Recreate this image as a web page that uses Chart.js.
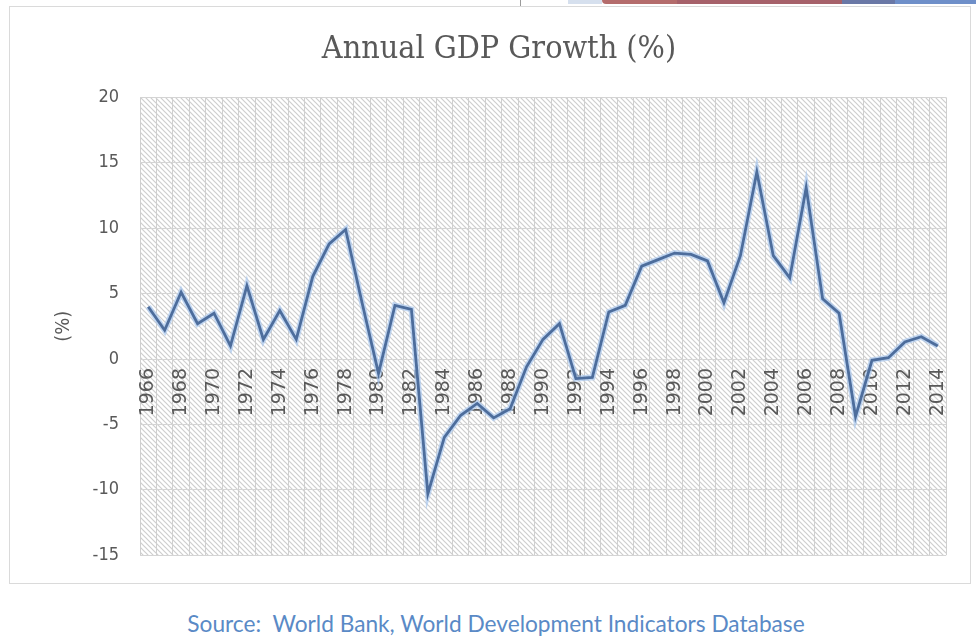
<!DOCTYPE html>
<html>
<head>
<meta charset="utf-8">
<title>Annual GDP Growth</title>
<script src="https://cdn.jsdelivr.net/npm/chart.js@4.4.1/dist/chart.umd.min.js"></script>
<style>
    html, body {
        margin: 0;
        padding: 0;
        background: #ffffff;
    }

    body {
        width: 976px;
        height: 640px;
        position: relative;
        overflow: hidden;
    }

    /* strip of the page header cut off above the chart */
    .franja {
        position: absolute;
        top: 0;
        height: 4px;
    }

    .separador {
        position: absolute;
        left: 520px;
        top: 0;
        width: 1px;
        height: 11px;
        background: #9a9a9a;
    }

    .marco {
        position: absolute;
        left: 9px;
        top: 6px;
        width: 962px;
        height: 578px;
        border: 1px solid #dadada;
        box-sizing: border-box;
        background: #ffffff;
    }

    #pibChart {
        position: absolute;
        left: 0;
        top: 0;
    }

    .fuente {
        position: absolute;
        left: 8px;
        width: 976px;
        top: 610px;
        text-align: center;
        font-family: Lato, "Open Sans", sans-serif;
        font-size: 22.7px;
        color: #5a8ac6;
    }
</style>
</head>
<body>

<div class="separador"></div>
<div class="franja" style="left:568px;width:34px;background:#d6e0ee;"></div>
<div class="franja" style="left:602px;width:75px;background:#b46c6c;border-bottom-left-radius:6px;"></div>
<div class="franja" style="left:677px;width:165px;background:#a6616a;"></div>
<div class="franja" style="left:842px;width:53px;background:#6a78a6;"></div>
<div class="franja" style="left:895px;width:81px;background:#6f8fc9;"></div>

<div class="marco">
    <canvas id="pibChart" width="960" height="580"></canvas>
</div>

<div class="fuente">Source:&nbsp; World Bank, World Development Indicators Database</div>

<script>

// ==========================
// DATOS
// ==========================

const anios = [
    '1966', '1967', '1968', '1969', '1970', '1971', '1972', '1973', '1974', '1975',
    '1976', '1977', '1978', '1979', '1980', '1981', '1982', '1983', '1984', '1985',
    '1986', '1987', '1988', '1989', '1990', '1991', '1992', '1993', '1994', '1995',
    '1996', '1997', '1998', '1999', '2000', '2001', '2002', '2003', '2004', '2005',
    '2006', '2007', '2008', '2009', '2010', '2011', '2012', '2013', '2014'
];

const crecimiento = [
    4.0, 2.2, 5.1, 2.7, 3.5, 1.0, 5.6, 1.5, 3.7, 1.5,
    6.3, 8.8, 9.9, 4.3, -1.1, 4.1, 3.8, -10.3, -6.0, -4.3,
    -3.4, -4.5, -3.8, -0.6, 1.5, 2.7, -1.5, -1.4, 3.6, 4.1,
    7.1, 7.6, 8.1, 8.0, 7.5, 4.3, 7.9, 14.3, 7.9, 6.2,
    13.1, 4.6, 3.5, -4.4, -0.1, 0.1, 1.3, 1.7, 1.0
];

const ticksY = [-15, -10, -5, 0, 5, 10, 15, 20];

// ==========================
// FONDO RAYADO DEL AREA
// ==========================

function crearRayado() {
    const c = document.createElement('canvas');
    c.width = 5;
    c.height = 5;
    const g = c.getContext('2d');
    g.fillStyle = '#ffffff';
    g.fillRect(0, 0, 5, 5);
    g.strokeStyle = '#cecece';
    g.lineWidth = 1.2;
    g.beginPath();
    g.moveTo(-1, -1);
    g.lineTo(6, 6);
    g.moveTo(-1, 4);
    g.lineTo(1, 6);
    g.moveTo(4, -1);
    g.lineTo(6, 1);
    g.stroke();
    return c;
}

const fondoRayado = {
    id: 'fondoRayado',
    beforeDraw(chart) {
        const {ctx, chartArea} = chart;
        ctx.save();
        ctx.fillStyle = ctx.createPattern(crearRayado(), 'repeat');
        ctx.fillRect(chartArea.left, chartArea.top,
            chartArea.right - chartArea.left, chartArea.bottom - chartArea.top);
        ctx.restore();
    }
};

// ==========================
// GRAFICO DE LINEA
// ==========================

const pibCtx = document.getElementById('pibChart');

new Chart(pibCtx, {

    type: 'line',

    data: {

        labels: anios,

        datasets: [

            {
                label: 'Annual GDP Growth (%)',
                data: crecimiento,
                borderColor: '#4d6d9c',
                borderWidth: 2.8,
                pointRadius: 0,
                tension: 0,
                order: 1
            },

            // halo claro debajo de la linea
            {
                label: 'brillo',
                data: crecimiento,
                borderColor: 'rgba(170, 200, 238, 0.7)',
                borderWidth: 6,
                pointRadius: 0,
                tension: 0,
                order: 2
            }

        ]

    },

    options: {

        responsive: false,

        animation: false,

        layout: {
            padding: {left: 42, right: 24, top: 0, bottom: 20}
        },

        plugins: {

            legend: {
                display: false
            },

            tooltip: {
                enabled: false
            },

            title: {
                display: true,
                text: 'Annual GDP Growth (%)',
                color: '#595959',
                font: {family: '"DejaVu Serif Condensed", "DejaVu Serif", serif', size: 32, weight: 'normal'},
                padding: {top: 23, bottom: 29}
            }

        },

        scales: {

            x: {
                type: 'category',
                offset: true,
                position: {y: 0},
                border: {display: false},
                grid: {
                    offset: true,
                    color: '#cfcfcf',
                    drawTicks: false
                },
                ticks: {
                    autoSkip: false,
                    maxRotation: 90,
                    minRotation: 90,
                    padding: 9,
                    color: '#595959',
                    font: {family: '"DejaVu Sans", sans-serif', size: 19},
                    callback: (valor, i) => (i % 2 === 0 ? anios[i] : '')
                }
            },

            y: {
                min: ticksY[0],
                max: ticksY[ticksY.length - 1],
                border: {display: false},
                afterBuildTicks: (escala) => {
                    escala.ticks = ticksY.map(v => ({value: v}));
                },
                afterFit: (escala) => {
                    escala.width = 88;
                },
                grid: {
                    color: '#d4d4d4',
                    drawTicks: false
                },
                ticks: {
                    padding: 21,
                    color: '#595959',
                    font: {family: '"DejaVu Sans Condensed", "DejaVu Sans", sans-serif', size: 18}
                },
                title: {
                    display: true,
                    text: '(%)',
                    color: '#595959',
                    font: {family: '"DejaVu Sans Condensed", "DejaVu Sans", sans-serif', size: 20},
                    padding: 0
                }
            }

        }

    },

    plugins: [fondoRayado]

});

</script>
</body>
</html>
